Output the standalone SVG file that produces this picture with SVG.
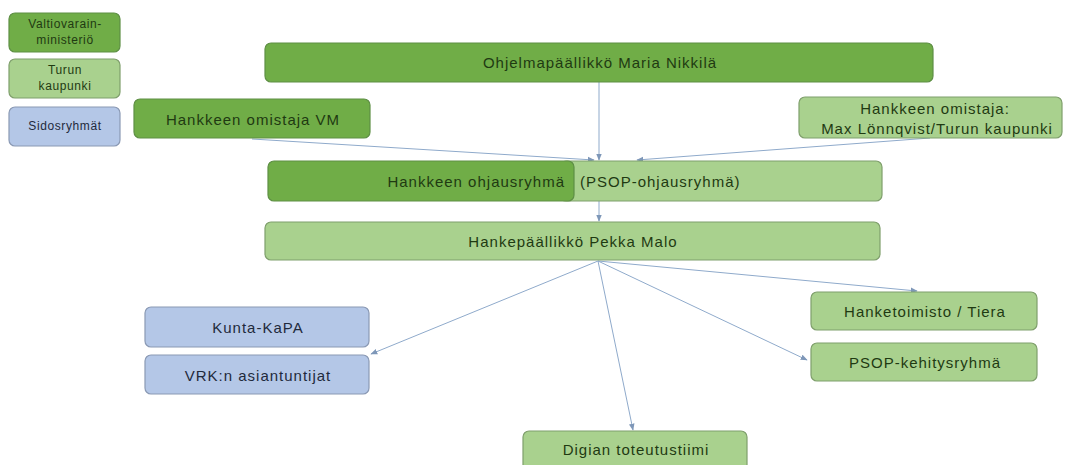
<svg xmlns="http://www.w3.org/2000/svg" width="1070" height="465" viewBox="0 0 1070 465">
<defs>
<style>
.dk{fill:#70AD47;stroke:#5E8F45;stroke-width:1.2}
.lt{fill:#A9D18E;stroke:#7F9F6C;stroke-width:1.2}
.bl{fill:#B4C7E7;stroke:#8A99B4;stroke-width:1.2}
text{font-family:"Liberation Sans",Arial,sans-serif;font-size:15px;letter-spacing:1px;fill:#1F3A12;text-anchor:middle;dominant-baseline:central}
.b text{fill:#1F2A3C}
.sm{font-size:12px;letter-spacing:0.6px}
.cn{fill:none;stroke:#8FAACB;stroke-width:1;marker-end:url(#ah)}
</style>
<marker id="ah" viewBox="0 0 10 10" refX="9" refY="5" markerWidth="7" markerHeight="7" orient="auto-start-reverse" markerUnits="userSpaceOnUse">
<path d="M0,1 L10,5 L0,9 z" fill="#7E97B8"/>
</marker>
</defs>
<rect width="1070" height="465" fill="#FFFFFF"/>

<g id="legend-vm">
<rect class="dk" x="9" y="13" width="111" height="39" rx="6"/>
<text class="sm" x="65" y="24">Valtiovarain-</text>
<text class="sm" x="65" y="40">ministeriö</text>
</g>
<g id="legend-turku">
<rect class="lt" x="9" y="59" width="111" height="39" rx="6"/>
<text class="sm" x="65" y="70">Turun</text>
<text class="sm" x="65" y="86">kaupunki</text>
</g>
<g id="legend-sidos" class="b">
<rect class="bl" x="9" y="107" width="111" height="39" rx="6"/>
<text class="sm" x="65" y="126">Sidosryhmät</text>
</g>

<g id="connectors">
<line class="cn" x1="599" y1="82" x2="599" y2="160"/>
<line class="cn" x1="252" y1="139" x2="594" y2="160"/>
<line class="cn" x1="930" y1="138" x2="637" y2="160"/>
<line class="cn" x1="599" y1="201" x2="599" y2="221"/>
<line class="cn" x1="598" y1="261" x2="371" y2="354"/>
<line class="cn" x1="598" y1="261" x2="633" y2="430"/>
<line class="cn" x1="598" y1="261" x2="807" y2="360"/>
<line class="cn" x1="598" y1="261" x2="917" y2="291"/>
</g>

<g id="ohjelmapaallikko">
<rect class="dk" x="265" y="43" width="668" height="39" rx="6"/>
<text x="600" y="62.5">Ohjelmapäällikkö Maria Nikkilä</text>
</g>
<g id="omistaja-vm">
<rect class="dk" x="134" y="99" width="236" height="39" rx="6"/>
<text x="253" y="119">Hankkeen omistaja VM</text>
</g>
<g id="omistaja-turku">
<rect class="lt" x="799" y="97" width="263" height="41" rx="6"/>
<text x="935" y="108">Hankkeen omistaja:</text>
<text x="937" y="128">Max Lönnqvist/Turun kaupunki</text>
</g>
<g id="ohjausryhma">
<rect class="lt" x="560" y="161" width="322" height="40" rx="6"/>
<rect class="dk" x="268" y="161" width="306" height="40" rx="6"/>
<text x="565" y="181" style="text-anchor:end">Hankkeen ohjausryhmä</text>
<text x="580" y="181" style="text-anchor:start">(PSOP-ohjausryhmä)</text>
</g>
<g id="hankepaallikko">
<rect class="lt" x="265" y="222" width="615" height="38" rx="6"/>
<text x="573" y="241">Hankepäällikkö Pekka Malo</text>
</g>
<g id="kunta-kapa" class="b">
<rect class="bl" x="145" y="307" width="224" height="40" rx="6"/>
<text x="258" y="327">Kunta-KaPA</text>
</g>
<g id="vrk" class="b">
<rect class="bl" x="145" y="355" width="224" height="39" rx="6"/>
<text x="258" y="375">VRK:n asiantuntijat</text>
</g>
<g id="hanketoimisto">
<rect class="lt" x="811" y="292" width="226" height="38" rx="6"/>
<text x="925" y="311">Hanketoimisto / Tiera</text>
</g>
<g id="psop-kehitys">
<rect class="lt" x="811" y="343" width="226" height="38" rx="6"/>
<text x="925" y="362">PSOP-kehitysryhmä</text>
</g>
<g id="digian">
<rect class="lt" x="523" y="431" width="224" height="44" rx="6"/>
<text x="636" y="449">Digian toteutustiimi</text>
</g>
</svg>
